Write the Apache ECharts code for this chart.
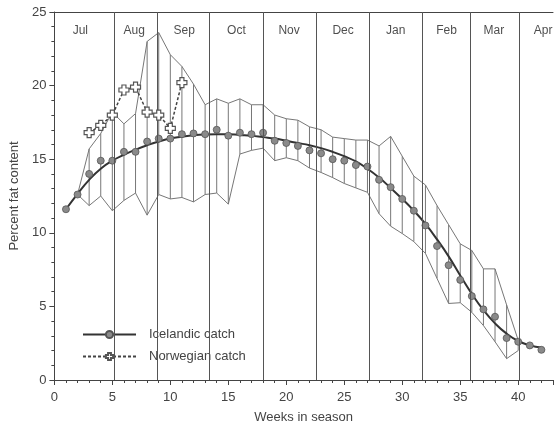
<!DOCTYPE html>
<html>
<head>
<meta charset="utf-8">
<script src="https://cdn.jsdelivr.net/npm/echarts@6/dist/echarts.min.js"></script>
<style>
html, body { margin: 0; background: #fff; }
#chart { width: 560px; height: 429px; }
</style>
</head>
<body>
<div id="chart"></div>
<script>
// weekly mean fat content, Icelandic catch (weeks 1..42)
var iceWeeks = [1,2,3,4,5,6,7,8,9,10,11,12,13,14,15,16,17,18,19,20,21,
    22,23,24,25,26,27,28,29,30,31,32,33,34,35,36,37,38,39,40,41,42];
var iceFat = [11.6,12.6,14.0,14.9,14.9,15.5,15.5,16.2,16.4,16.4,16.7,16.75,16.7,17.0,16.6,16.8,16.7,16.8,16.25,16.1,15.9,
    15.6,15.4,15.0,14.9,14.6,14.5,13.6,13.1,12.3,11.5,10.5,9.1,7.8,6.8,5.7,4.8,4.3,2.85,2.6,2.35,2.05];

// fitted curve
var fitFat = [11.6,12.65,13.6,14.35,14.9,15.3,15.65,15.95,16.2,16.4,16.52,16.62,16.68,16.7,16.7,16.65,16.6,16.5,16.4,16.25,16.1,
    15.95,15.75,15.5,15.2,14.85,14.35,13.75,13.05,12.3,11.5,10.6,9.55,8.4,7.1,5.85,4.75,3.85,3.15,2.65,2.35,2.2];

// Norwegian catch
var norWeeks = [3,4,5,6,7,8,9,10,11];
var norFat = [16.8,17.3,18.0,19.7,19.9,18.2,18.0,17.1,20.2];

// range of the Icelandic samples
var bandWeeks = [2,3,4,5,6,7,8,9,10,11,12,13,14,15,16,17,18,19,20,21,
    22,23,24,25,26,27,28,29,30,31,32,33,34,35,36,37,38,39,40];
var bandHigh = [12.6,15.7,16.75,18.2,17.4,18.1,23.0,23.6,22.1,21.3,20.1,18.7,19.1,18.8,19.1,18.7,18.7,18.0,17.75,17.65,
    17.2,17.0,16.5,16.4,16.3,16.3,15.9,16.55,15.2,13.85,13.25,11.85,10.55,9.25,8.8,7.55,7.55,5.1,2.7];
var bandLow = [12.6,11.85,12.5,11.5,12.2,12.7,11.2,12.6,12.3,12.4,12.1,12.6,12.7,11.95,15.35,15.6,15.75,14.9,15.1,14.9,
    14.4,14.1,13.75,13.35,13.05,12.75,11.3,10.45,9.95,9.4,8.6,6.9,5.2,5.25,4.6,3.7,2.6,1.45,2.0];

// months
var monthBounds = [5.17, 8.85, 13.35, 18.0, 22.6, 27.13, 31.73, 35.83, 40.05];
var monthNames = ['Jul','Aug','Sep','Oct','Nov','Dec','Jan','Feb','Mar','Apr'];
var monthLabelX = [2.24, 6.89, 11.2, 15.7, 20.24, 24.9, 29.43, 33.82, 37.9, 42.15];
var monthLabelY = 23.7;

var font = 'Liberation Sans, Arial, sans-serif';
var crossPath = 'path://M3,0H7V3H10V7H7V10H3V7H0V3H3Z';

var myChart = echarts.init(document.getElementById('chart'));

function pairs(xs, ys) {
    return xs.map(function (x, i) { return [x, ys[i]]; });
}

var option = {
    animation: false,
    backgroundColor: '#fff',
    textStyle: { fontFamily: font },
    grid: { left: 53, right: 7, top: 12, bottom: 44 },
    legend: {
        data: ['Icelandic catch', 'Norwegian catch'],
        orient: 'vertical',
        left: 56,
        top: 310,
        padding: [18, 10, 17, 26],
        itemGap: 9,
        itemWidth: 53,
        itemHeight: 9,
        backgroundColor: '#fff',
        textStyle: { fontSize: 13, color: '#444', fontFamily: font, padding: [0, 0, 0, 8] }
    },
    xAxis: [{
        type: 'value',
        min: 0, max: 43, interval: 5,
        name: 'Weeks in season',
        nameLocation: 'middle',
        nameGap: 31,
        nameTextStyle: { fontSize: 13, color: '#444' },
        axisLine: { lineStyle: { color: '#444', width: 1 } },
        axisTick: { length: 5, lineStyle: { color: '#444' } },
        minorTick: { show: true, splitNumber: 5, length: 3, lineStyle: { color: '#444' } },
        axisLabel: { fontSize: 13, color: '#444', margin: 11,
            formatter: function (v) { return v % 5 === 0 && v <= 40 ? v : ''; } },
        splitLine: { show: false }
    }, {
        type: 'value',
        position: 'top',
        min: 0, max: 43,
        axisLine: { show: true, lineStyle: { color: '#444', width: 1 } },
        axisTick: { show: false },
        axisLabel: { show: false },
        splitLine: { show: false }
    }],
    yAxis: {
        type: 'value',
        min: 0, max: 25, interval: 5,
        name: 'Percent fat content',
        nameLocation: 'middle',
        nameGap: 28,
        nameTextStyle: { fontSize: 13, color: '#444' },
        axisLine: { show: true, lineStyle: { color: '#444', width: 1 } },
        axisTick: { show: true, length: 5, lineStyle: { color: '#444' } },
        minorTick: { show: true, splitNumber: 5, length: 3, lineStyle: { color: '#444' } },
        axisLabel: { fontSize: 13, color: '#444', margin: 8 },
        splitLine: { show: false }
    },
    series: [
        {
            // vertical hatching for each week + month boundaries
            name: 'range',
            type: 'custom',
            renderItem: function (params, api) {
                var a = api.coord([api.value(0), api.value(1)]);
                var b = api.coord([api.value(0), api.value(2)]);
                return {
                    type: 'line',
                    shape: { x1: a[0], y1: a[1], x2: b[0], y2: b[1] },
                    style: { stroke: '#777', lineWidth: 1 }
                };
            },
            encode: { x: 0, y: [1, 2] },
            data: bandWeeks.map(function (w, i) { return [w, bandLow[i], bandHigh[i]]; }),
            markLine: {
                silent: true,
                symbol: 'none',
                label: { show: false },
                lineStyle: { color: '#555', width: 1, type: 'solid' },
                data: monthBounds.map(function (x) { return { xAxis: x }; })
            },
            z: 1
        },
        {
            name: 'upper',
            type: 'line',
            data: pairs(bandWeeks, bandHigh),
            symbol: 'none',
            lineStyle: { color: '#777', width: 1 },
            z: 1
        },
        {
            name: 'lower',
            type: 'line',
            data: pairs(bandWeeks, bandLow),
            symbol: 'none',
            lineStyle: { color: '#777', width: 1 },
            z: 1
        },
        {
            name: 'Icelandic catch',
            type: 'line',
            data: pairs(iceWeeks, fitFat),
            smooth: true,
            symbol: 'circle',
            symbolSize: 7,
            showSymbol: false,
            itemStyle: { color: '#8a8a8a', borderColor: '#555', borderWidth: 0.8 },
            lineStyle: { color: '#333', width: 2 },
            z: 3
        },
        {
            name: 'Icelandic points',
            type: 'scatter',
            data: pairs(iceWeeks, iceFat),
            symbol: 'circle',
            symbolSize: 7,
            itemStyle: { color: '#8a8a8a', borderColor: '#555', borderWidth: 0.8, opacity: 1 },
            z: 4
        },
        {
            name: 'Norwegian catch',
            type: 'line',
            data: pairs(norWeeks, norFat),
            symbol: crossPath,
            symbolSize: 10,
            showSymbol: true,
            itemStyle: { color: '#fff', borderColor: '#555', borderWidth: 1.2 },
            lineStyle: { color: '#444', width: 1.5, type: [3, 2] },
            z: 5
        },
        {
            name: 'months',
            type: 'scatter',
            data: pairs(monthLabelX, monthLabelX.map(function () { return monthLabelY; })),
            symbolSize: 0,
            silent: true,
            label: {
                show: true,
                position: 'inside',
                fontSize: 12,
                color: '#222',
                formatter: function (p) { return monthNames[p.dataIndex]; }
            },
            z: 2
        }
    ]
};

myChart.setOption(option);
</script>
</body>
</html>
